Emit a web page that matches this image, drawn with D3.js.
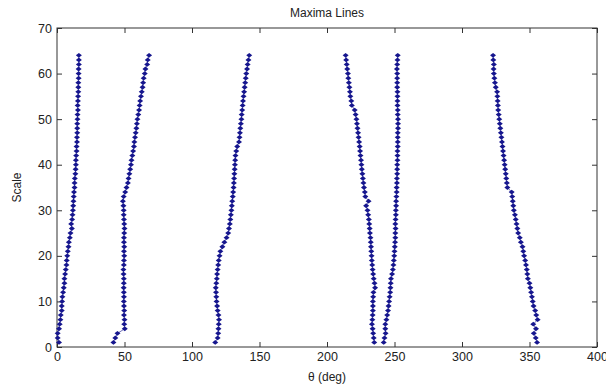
<!DOCTYPE html>
<html>
<head>
<meta charset="utf-8">
<script src="https://cdn.jsdelivr.net/npm/d3@7"></script>
<style>
  html, body { margin: 0; padding: 0; background: #fff; }
  text { font-family: "Liberation Sans", Arial, sans-serif; fill: #222; }
</style>
</head>
<body>
<div id="chart"></div>
<script>
// scale index 1..64 shared by every maxima line
const scales = d3.range(1, 65);

// theta (deg) of each maxima line, scale 1 -> 64
const line1 = [1.5, 0.5, 0.5, 1.5, 2, 2.5, 2.8, 3.5, 3.5, 3.8, 4, 4.5, 5, 5.5, 5.5, 6,
  6.5, 7, 7.2, 7.6, 8, 8.5, 8.8, 9.5, 10, 11, 10.5, 11.2, 11.5, 11.8, 12, 12.2,
  12.4, 12.6, 13, 13, 13.2, 13.6, 13.8, 14, 14, 14.2, 14.5, 14.5, 14.8, 14.8, 15, 15,
  15, 15.2, 15.2, 15.5, 15.3, 15.5, 15.6, 15.8, 15.8, 15.8, 16, 16, 16, 16.2, 16.2, 16.2];
const line2 = [41.8, 43.2, 44.8, 50.2, 49.8, 50, 49.6, 49.8, 49.6, 49.5, 49.6, 49.5, 49.4, 49.5, 49.5, 49.3,
  49.2, 49.5, 49.6, 49.8, 49.6, 49.8, 49.6, 49.6, 49.8, 50, 49.8, 49.6, 49.4, 49.4, 49.2, 48.8,
  49.4, 50.5, 51.5, 52.5, 53, 53.6, 54.2, 54.8, 55.2, 55.8, 56.4, 57, 57.3, 57.8, 58.3, 58.8,
  59.2, 59.6, 60.2, 60.8, 61.2, 61.6, 62.2, 62.8, 63.4, 63.8, 64.2, 65, 65.5, 66.8, 67.2, 68.2];
const line3 = [117.2, 119, 119.4, 119.6, 119.8, 120, 119.6, 119, 118.6, 118.2, 118, 117.8, 117.6, 118, 118.4, 118.6,
  119, 119.4, 119.8, 120.4, 121, 122.5, 124, 125.6, 126.8, 127.4, 128, 128.4, 128.8, 129.2, 129.5, 129.8,
  130.2, 130.5, 130.8, 131, 131.2, 131.4, 131.6, 131.8, 132, 132.2, 132.8, 133.5, 134.8, 135.2, 135.5, 135.8,
  136.2, 136.6, 136.8, 137.2, 137.5, 137.8, 138.2, 138.6, 139, 139.4, 139.8, 140.2, 140.8, 141.2, 141.8, 142.4];
const line4 = [235, 234.6, 234.2, 233.8, 233.3, 233.6, 233.8, 234, 234, 234, 234.2, 234.4, 235.6, 235.2, 234.6, 234.2,
  233.8, 233.5, 233.2, 233, 232.8, 232.6, 232.4, 232.2, 231.8, 231.6, 231.3, 231, 230.5, 230, 229, 230.8,
  228.4, 228, 227.4, 227, 226.6, 226.2, 225.8, 225.5, 225.2, 224.8, 224.5, 224.2, 223.8, 223.4, 223, 222.6,
  222.2, 221.8, 221.2, 220.5, 218.4, 218, 217.3, 217, 216.6, 216.2, 215.8, 215.5, 215, 214.6, 214.2, 213.8];
const line5 = [242, 242.6, 243.4, 243.2, 243.2, 244, 244.6, 245.2, 245.6, 246, 246.4, 246.8, 247, 247.2, 247.4, 248.2,
  248.8, 249.2, 249.5, 249.8, 250, 250.2, 250.4, 250.6, 250.6, 250.8, 250.6, 250.8, 251, 251, 251.2, 251.2,
  251.4, 251.6, 251.6, 251.8, 251.8, 252, 252, 252, 252.2, 252.2, 252.2, 252.4, 252.4, 252.4, 252.4, 252.6,
  252.6, 252.6, 252.4, 252.4, 252.2, 252.2, 252.2, 252.2, 252, 252, 252, 252, 251.8, 252, 252.2, 252.4];
const line6 = [355.6, 354.6, 353.2, 354.8, 352.8, 356, 355, 354.2, 353, 352.4, 351.8, 351.2, 350.6, 350, 348.8, 348.4,
  348, 347.4, 346.8, 346, 345.4, 344.8, 343.6, 342.8, 341.6, 341, 340.4, 339.8, 339.2, 338.4, 338, 337.6,
  337.2, 336.8, 333.6, 333.2, 332.8, 332.4, 332, 331.6, 331.2, 330.8, 330.4, 330, 329.6, 329.2, 328.8, 328.4,
  328, 327.6, 327.2, 326.8, 326.6, 326.4, 326.2, 326, 325, 324.4, 324, 323.6, 323.4, 323.6, 323.2, 323];
const maximaLines = [line1, line2, line3, line4, line5, line6];

const xTicks = [0, 50, 100, 150, 200, 250, 300, 350, 400];
const yTicks = [0, 10, 20, 30, 40, 50, 60, 70];

const W = 606, H = 388;
const margin = { top: 28, right: 9, bottom: 41, left: 57 };
const width = W - margin.left - margin.right;
const height = H - margin.top - margin.bottom;
const markColor = '#16168e';

const svg = d3.select('#chart').append('svg')
  .attr('width', W)
  .attr('height', H);

const g = svg.append('g')
  .attr('transform', 'translate(' + margin.left + ',' + margin.top + ')');

const x = d3.scaleLinear().domain([0, 400]).range([0, width]);
const y = d3.scaleLinear().domain([0, 70]).range([height, 0]);

// axes with inward ticks, MATLAB style
const tickLen = 5;
g.append('g')
  .attr('transform', 'translate(0,' + height + ')')
  .call(d3.axisBottom(x).tickValues(xTicks).tickSizeInner(-tickLen).tickSizeOuter(0).tickPadding(5));
g.append('g')
  .call(d3.axisTop(x).tickValues(xTicks).tickSizeInner(-tickLen).tickSizeOuter(0).tickFormat(''));
g.append('g')
  .call(d3.axisLeft(y).tickValues(yTicks).tickSizeInner(-tickLen).tickSizeOuter(0).tickPadding(5));
g.append('g')
  .attr('transform', 'translate(' + width + ',0)')
  .call(d3.axisRight(y).tickValues(yTicks).tickSizeInner(-tickLen).tickSizeOuter(0).tickFormat(''));

g.selectAll('.domain').remove();
g.selectAll('.tick line').attr('stroke', '#333');
g.selectAll('.tick text').style('font-size', '12.5px').attr('fill', '#222');

// box
g.append('rect')
  .attr('width', width)
  .attr('height', height)
  .attr('fill', 'none')
  .attr('stroke', '#333')
  .attr('stroke-width', 1);

// maxima lines: thin line with wide diamond markers
const line = d3.line()
  .x(d => x(d[0]))
  .y(d => y(d[1]));
const wideDiamond = {
  draw(ctx, size) {
    const hw = 3, hh = 2.4;
    ctx.moveTo(0, -hh);
    ctx.lineTo(hw, 0);
    ctx.lineTo(0, hh);
    ctx.lineTo(-hw, 0);
    ctx.closePath();
  }
};
const marker = d3.symbol().type(wideDiamond);

maximaLines.forEach(vals => {
  const pts = vals.map((v, i) => [v, scales[i]]);
  g.append('path')
    .datum(pts)
    .attr('d', line)
    .attr('fill', 'none')
    .attr('stroke', markColor)
    .attr('stroke-width', 0.6);
  g.selectAll(null)
    .data(pts)
    .enter()
    .append('path')
    .attr('d', marker)
    .attr('transform', d => 'translate(' + x(d[0]) + ',' + y(d[1]) + ')')
    .attr('fill', markColor);
});

// title and labels
svg.append('text')
  .attr('x', margin.left + width / 2)
  .attr('y', 17)
  .attr('text-anchor', 'middle')
  .style('font-size', '12px')
  .text('Maxima Lines');

svg.append('text')
  .attr('x', margin.left + width / 2)
  .attr('y', 381)
  .attr('text-anchor', 'middle')
  .style('font-size', '12px')
  .text('θ (deg)');

svg.append('text')
  .attr('transform', 'translate(21,' + (margin.top + height / 2) + ') rotate(-90)')
  .attr('text-anchor', 'middle')
  .style('font-size', '12px')
  .text('Scale');
</script>
</body>
</html>
